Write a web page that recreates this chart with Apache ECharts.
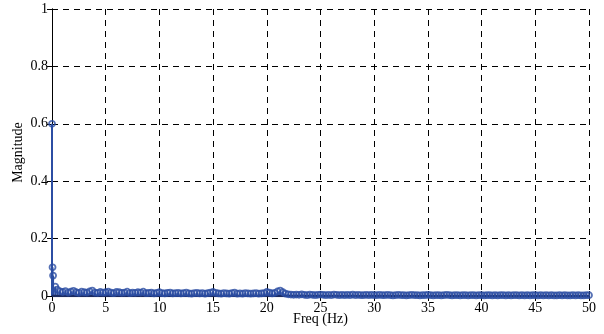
<!DOCTYPE html>
<html>
<head>
<meta charset="utf-8">
<script src="https://cdn.jsdelivr.net/npm/echarts@6/dist/echarts.min.js"></script>
<style>html,body{margin:0;padding:0;background:#fff}#c{width:604px;height:334px}</style>
</head>
<body>
<div id="c"></div>
<script>
var freqHz = [0,0.05,0.1,0.3,0.5,
0.75,1,1.25,1.5,1.75,2,2.25,2.5,2.75,3,3.25,3.5,3.75,4,4.25,4.5,4.75,5,
5.25,5.5,5.75,6,6.25,6.5,6.75,7,7.25,7.5,7.75,8,8.25,8.5,8.75,9,9.25,9.5,9.75,10,
10.25,10.5,10.75,11,11.25,11.5,11.75,12,12.25,12.5,12.75,13,13.25,13.5,13.75,14,14.25,14.5,14.75,15,
15.25,15.5,15.75,16,16.25,16.5,16.75,17,17.25,17.5,17.75,18,18.25,18.5,18.75,19,19.25,19.5,19.75,20,
20.25,20.5,20.75,21,21.25,21.5,21.75,22,
22.25,22.5,22.75,23,23.25,23.5,23.75,24,24.25,24.5,24.75,25,
25.25,25.5,25.75,26,26.25,26.5,26.75,27,27.25,27.5,27.75,28,28.25,28.5,28.75,29,29.25,29.5,29.75,30,
30.25,30.5,30.75,31,31.25,31.5,31.75,32,32.25,32.5,32.75,33,33.25,33.5,33.75,34,34.25,34.5,34.75,35,
35.25,35.5,35.75,36,36.25,36.5,36.75,37,37.25,37.5,37.75,38,38.25,38.5,38.75,39,39.25,39.5,39.75,40,
40.25,40.5,40.75,41,41.25,41.5,41.75,42,42.25,42.5,42.75,43,43.25,43.5,43.75,44,44.25,44.5,44.75,45,
45.25,45.5,45.75,46,46.25,46.5,46.75,47,47.25,47.5,47.75,48,48.25,48.5,48.75,49,49.25,49.5,49.75,50];
var magnitude = [0.6,0.1,0.071,0.033,0.022,
0.016,0.014,0.017,0.012,0.015,0.018,0.013,0.011,0.015,0.013,0.012,0.016,0.019,0.012,0.011,0.014,0.012,0.013,
0.015,0.012,0.010,0.014,0.013,0.011,0.012,0.015,0.010,0.012,0.011,0.013,0.012,0.015,0.010,0.011,0.012,0.009,0.011,0.013,
0.010,0.009,0.011,0.012,0.009,0.010,0.011,0.009,0.010,0.012,0.009,0.008,0.010,0.011,0.009,0.010,0.008,0.010,0.012,0.014,
0.011,0.009,0.008,0.010,0.009,0.008,0.010,0.012,0.008,0.009,0.008,0.010,0.009,0.008,0.009,0.010,0.008,0.009,0.010,0.014,
0.012,0.009,0.011,0.016,0.019,0.013,0.008,0.006,
0.005,0.004,0.005,0.004,0.006,0.004,0.003,0.005,0.004,0.003,0.004,0.005,
0.004,0.003,0.004,0.003,0.005,0.004,0.003,0.004,0.003,0.004,0.003,0.005,0.003,0.004,0.003,0.003,0.004,0.003,0.004,0.003,
0.003,0.004,0.003,0.003,0.004,0.003,0.002,0.003,0.004,0.003,0.003,0.002,0.003,0.004,0.003,0.003,0.002,0.003,0.003,0.004,
0.003,0.002,0.003,0.003,0.002,0.003,0.004,0.003,0.002,0.003,0.003,0.002,0.003,0.003,0.002,0.003,0.003,0.002,0.003,0.003,
0.002,0.003,0.003,0.002,0.003,0.002,0.003,0.003,0.002,0.003,0.002,0.003,0.003,0.002,0.003,0.002,0.003,0.002,0.003,0.003,
0.002,0.003,0.002,0.003,0.002,0.003,0.002,0.002,0.003,0.002,0.003,0.002,0.002,0.003,0.002,0.003,0.002,0.002,0.003,0.003];
var xTicks = [0,5,10,15,20,25,30,35,40,45,50];
var yTicks = [0,0.2,0.4,0.6,0.8,1];
var xTitle = 'Freq (Hz)';
var yTitle = 'Magnitude';

var pts = freqHz.map(function(f,i){return [f, magnitude[i]];});
var chart = echarts.init(document.getElementById('c'), null, {renderer:'canvas'});
var FONT = '"Liberation Serif", "Times New Roman", Times, serif';
var BLUE = '#2c4ea3';
var tickLbl = {color:'#000', fontFamily:FONT, fontSize:14};
var grid = {left:52, right:15, top:9, bottom:38, show:false, containLabel:false, outerBoundsMode:'none'};
function fmtY(v){return String(+v.toFixed(1));}
chart.setOption({
  animation:false,
  backgroundColor:'#fff',
  textStyle:{fontFamily:FONT},
  grid: grid,
  xAxis:[{
    type:'value', min:0, max:50, interval:5,
    name: xTitle, nameLocation:'middle', nameGap:16, nameMoveOverlap:false,
    nameTextStyle:{color:'#000', fontFamily:FONT, fontSize:14, verticalAlign:'top'},
    axisLine:{show:true, onZero:false, lineStyle:{color:'#000', width:1}},
    axisTick:{show:true, inside:true, length:5, lineStyle:{color:'#000'}},
    axisLabel:Object.assign({show:true, margin:5, formatter:function(v){return String(v);}}, tickLbl),
    splitLine:{show:true, lineStyle:{color:'#000', type:[6,5], width:1}}
  },{
    type:'value', min:0, max:50, interval:5, position:'top',
    axisLine:{show:true, lineStyle:{color:'#000', width:1}},
    axisTick:{show:true, inside:true, length:5, lineStyle:{color:'#000'}},
    axisLabel:{show:false}, splitLine:{show:false}
  }],
  yAxis:[{
    type:'value', min:0, max:1, interval:0.2,
    name: yTitle, nameLocation:'middle', nameGap:27, nameRotate:90, nameMoveOverlap:false,
    nameTextStyle:{color:'#000', fontFamily:FONT, fontSize:14},
    axisLine:{show:true, onZero:false, lineStyle:{color:'#000', width:1}},
    axisTick:{show:true, inside:true, length:5, lineStyle:{color:'#000'}},
    axisLabel:Object.assign({show:true, margin:4, formatter:fmtY}, tickLbl),
    splitLine:{show:true, lineStyle:{color:'#000', type:[6,5], width:1}}
  },{
    type:'value', min:0, max:1, interval:0.2, position:'right',
    axisLine:{show:true, lineStyle:{color:'#000', width:1}},
    axisTick:{show:true, inside:true, length:5, lineStyle:{color:'#000'}},
    axisLabel:{show:false}, splitLine:{show:false}
  }],
  series:[{
    type:'custom',
    xAxisIndex:0, yAxisIndex:0,
    data: pts,
    renderItem:function(params, api){
      var p0 = api.coord([api.value(0), 0]);
      var p1 = api.coord([api.value(0), api.value(1)]);
      return {type:'line', shape:{x1:p0[0], y1:p0[1], x2:p1[0], y2:p1[1]},
        style:{stroke:BLUE, lineWidth:2}};
    },
    z:3, silent:true
  },{
    type:'line',
    xAxisIndex:0, yAxisIndex:0,
    data: freqHz.map(function(f){return [f,0];}),
    showSymbol:false, lineStyle:{color:'#1c2b60', width:2.5}, z:4, silent:true
  },{
    type:'scatter',
    xAxisIndex:0, yAxisIndex:0,
    data: pts,
    symbol:'circle', symbolSize:6,
    itemStyle:{color:'rgba(255,255,255,0)', borderColor:BLUE, borderWidth:1.8},
    z:5, silent:true
  }]
});
</script>
</body>
</html>
